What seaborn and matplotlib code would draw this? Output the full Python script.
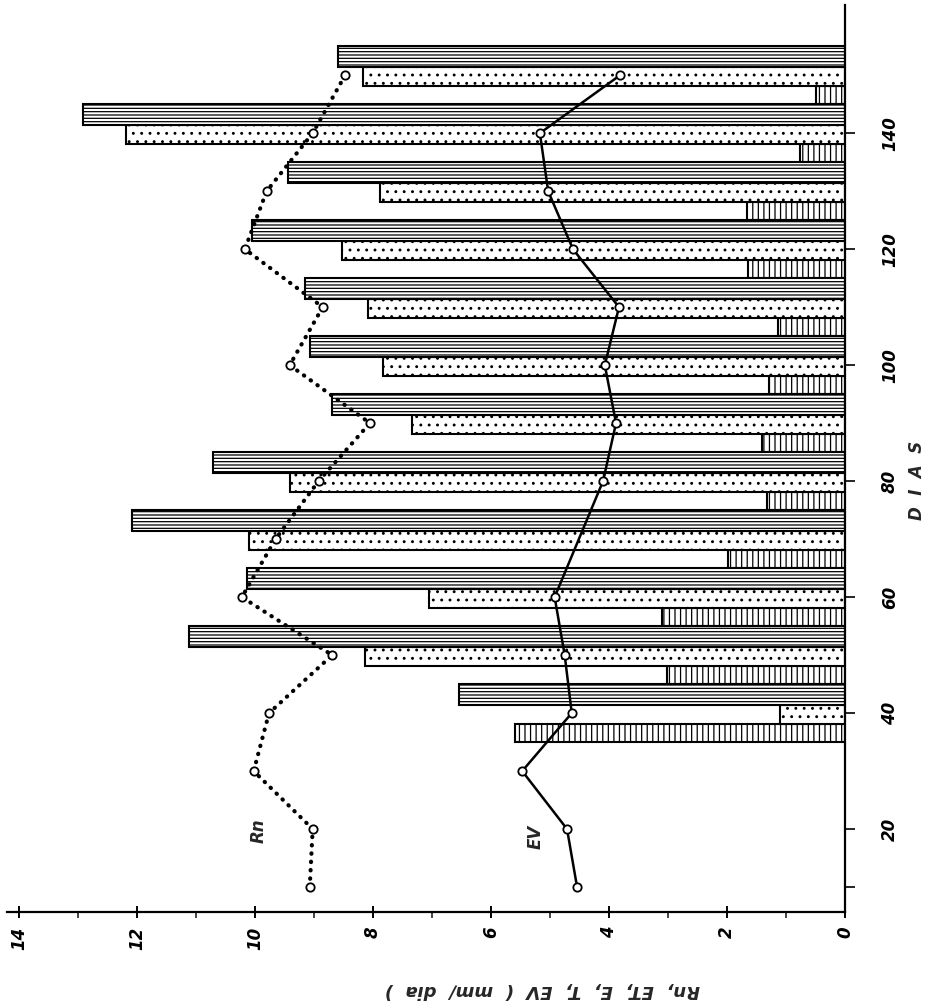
import numpy as np
import pandas as pd
import matplotlib
matplotlib.use("Agg")
import matplotlib.pyplot as plt
import seaborn as sns

# ---------------- data ----------------
period_start = [35, 45, 55, 65, 75, 85, 95, 105, 115, 125, 135, 145]
E_vals  = [5.59, 3.02, 3.10, 1.98, 1.32, 1.41, 1.29, 1.13, 1.64, 1.66, 0.76, 0.49]
T_vals  = [1.10, 8.14, 7.05, 10.10, 9.41, 7.34, 7.83, 8.08, 8.53, 7.88, 12.19, 8.17]
ET_vals = [6.54, 11.12, 10.13, 12.08, 10.71, 8.69, 9.07, 9.15, 10.05, 9.44, 12.92, 8.59]

rn_days = [10, 20, 30, 40, 50, 60, 70, 80, 90, 100, 110, 120, 130, 140, 150]
rn_vals = [9.07, 9.02, 10.02, 9.76, 8.69, 10.22, 9.65, 8.92, 8.05, 9.41, 8.85, 10.17, 9.80, 9.02, 8.47]

ev_days = [10, 20, 30, 40, 50, 60, 80, 90, 100, 110, 120, 130, 140, 150]
ev_vals = [4.54, 4.71, 5.47, 4.63, 4.75, 4.92, 4.10, 3.88, 4.07, 3.83, 4.61, 5.03, 5.17, 3.81]

day_ticks = [20, 40, 60, 80, 100, 120, 140]
val_ticks = [0, 2, 4, 6, 8, 10, 12, 14]

# ---------------- style ----------------
sns.set_style("white")
plt.rcParams["font.family"] = ["DejaVu Sans"]
plt.rcParams["hatch.linewidth"] = 0.9
plt.rcParams["hatch.color"] = "black"

W, H = 937, 1007
fig = plt.figure(figsize=(W / 100, H / 100), dpi=100)
ax = fig.add_axes([7 / W, 95 / H, (845 - 7) / W, (912 - 5) / H])

starts = np.array(period_start, dtype=float)
w_e, w_t, w_et = 3.2, 3.2, 3.6
common = dict(align="edge", facecolor="white", edgecolor="black", linewidth=1.5, zorder=2)
ax.barh(starts, E_vals, height=w_e, hatch="|||", **common)
ax.barh(starts + w_e, T_vals, height=w_t, hatch="..", **common)
ax.barh(starts + w_e + w_t, ET_vals, height=w_et, hatch="-----", **common)

rn_df = pd.DataFrame({"dia": rn_days, "valor": rn_vals})
ev_df = pd.DataFrame({"dia": ev_days, "valor": ev_vals})

sns.lineplot(data=rn_df, x="valor", y="dia", orient="y", sort=False, estimator=None,
             ax=ax, color="black", linewidth=3.0, linestyle=(0, (0.1, 1.9)),
             dash_capstyle="round", marker="o", markersize=6, markerfacecolor="white",
             markeredgecolor="black", markeredgewidth=1.3, zorder=4)
sns.lineplot(data=ev_df, x="valor", y="dia", orient="y", sort=False, estimator=None,
             ax=ax, color="black", linewidth=1.8, marker="o", markersize=6,
             markerfacecolor="white", markeredgecolor="black", markeredgewidth=1.3, zorder=4)

ax.set_xlim(14.2, 0)
ax.set_ylim(5.7, 162.1)

for s in ["top", "left"]:
    ax.spines[s].set_visible(False)
for s in ["right", "bottom"]:
    ax.spines[s].set_visible(True)
    ax.spines[s].set_linewidth(1.6)
    ax.spines[s].set_color("black")

lab_font = dict(fontsize=12, fontweight="bold", fontstyle="italic")

ax.set_xticks(val_ticks)
ax.set_xticks([1, 3, 5, 7, 9, 11, 13], minor=True)
ax.set_xticklabels([str(v) for v in val_ticks], rotation=90, **lab_font)
ax.tick_params(axis="x", which="major", direction="inout", length=9, width=1.4,
               pad=6, bottom=True, colors="black")
ax.tick_params(axis="x", which="minor", direction="out", length=4, width=1.2, bottom=True)

ax.yaxis.tick_right()
ax.set_yticks(day_ticks + [10])
ax.set_yticklabels([str(d) for d in day_ticks] + [""], rotation=90, va="center", **lab_font)
ax.tick_params(axis="y", which="major", direction="out", length=7, width=1.2,
               pad=19, right=True, left=False, colors="black")

ax.set_xlabel("")
ax.set_ylabel("")

fig.text(917 / W, 1 - 480 / H, "D  I  A  S", rotation=90, ha="center", va="center", **lab_font)
fig.text(542 / W, 1 - 990 / H, "Rn,  ET,  E,  T,  EV  (  mm/  dia  )", rotation=180,
         ha="center", va="center", fontsize=13, fontweight="bold", fontstyle="italic")
ax.text(9.93, 19.7, "Rn", rotation=90, ha="center", va="center", **lab_font)
ax.text(5.25, 18.7, "EV", rotation=90, ha="center", va="center", **lab_font)

fig.savefig("out.png", dpi=100, facecolor="white")
